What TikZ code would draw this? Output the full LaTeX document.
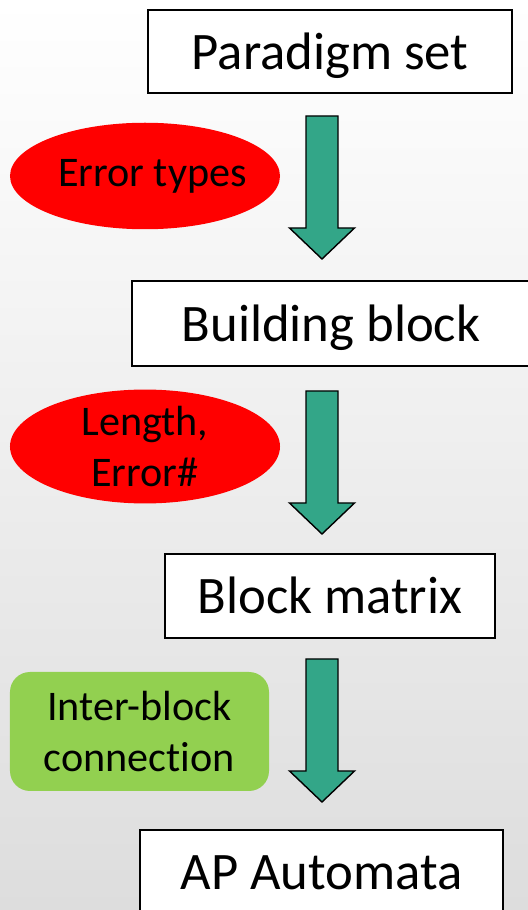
\documentclass[tikz,border=0pt]{standalone}
\usepackage{fontspec}
\setmainfont{Carlito}[Ligatures=NoCommon]
\usetikzlibrary{shapes.geometric}

\definecolor{arrowteal}{RGB}{51,166,136}
\definecolor{keygreen}{RGB}{146,208,80}
\definecolor{bggray}{RGB}{221,221,221}

% thick downward block arrow hanging from a top coordinate
\newcommand{\stagearrow}[1]{%
  \filldraw [fill=arrowteal, draw=black, line width=0.8pt, line join=miter]
    (#1) ++(-0.32,0) -- ++(0.64,0) -- ++(0,-2.24) -- ++(0.33,0)
    -- ++(-0.65,-0.62) -- ++(-0.65,0.62) -- ++(0.33,0) -- cycle;}

\begin{document}
\begin{tikzpicture}[
    stage/.style={draw, fill=white, line width=1pt, inner sep=0pt,
      text height=0.82cm, text depth=0.1cm, font=\fontsize{30}{36}\selectfont},
    tag/.style={ellipse, fill=red, inner sep=0pt, minimum width=5.4cm,
      minimum height=2.13cm, align=center, font=\fontsize{24}{29}\selectfont}]
  \shade [top color=white, bottom color=bggray] (0,0) rectangle (10.56,18.2);
  \useasboundingbox (0,0) rectangle (10.56,18.2);

  \node [stage, minimum width=7.28cm, minimum height=1.66cm] (para) at (6.6,17.17) {Paradigm set};
  \node [stage, minimum width=7.96cm, minimum height=1.7cm] (build) at (6.62,11.73) {Building block};
  \node [stage, minimum width=6.6cm, minimum height=1.68cm] (matrix) at (6.6,6.28) {Block matrix};
  \node [stage, minimum width=7.26cm, minimum height=1.66cm] (apauto) at (6.43,0.77) {AP Automata};

  \node [tag] (errtypes) at (2.9,14.68) {\makebox[0pt]{\hspace*{0.3cm}Error types}};
  \node [tag] (lenerr) at (2.9,9.27) {Length,\\Error\#};
  \node [fill=keygreen, rounded corners=0.4cm, minimum width=5.18cm, minimum height=2.38cm,
    inner sep=0pt, align=center, font=\fontsize{24}{29}\selectfont] (interblk) at (2.79,3.57)
    {Inter-block\\connection};

  \coordinate (a1) at (6.44,15.88);
  \coordinate (a2) at (6.44,10.38);
  \coordinate (a3) at (6.44,5.02);
  \stagearrow{a1}
  \stagearrow{a2}
  \stagearrow{a3}
\end{tikzpicture}
\end{document}
